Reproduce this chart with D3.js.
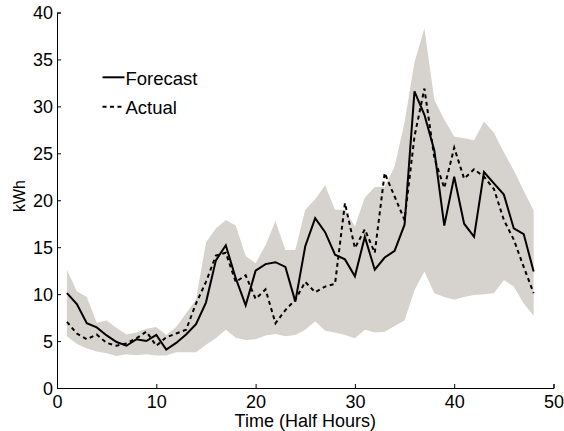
<!DOCTYPE html>
<html>
<head>
<meta charset="utf-8">
<script src="https://cdn.jsdelivr.net/npm/d3@7"></script>
<style>
  html, body { margin: 0; padding: 0; background: #fff; }
  svg text { font-family: "Liberation Sans", Arial, sans-serif; fill: #000; }
</style>
</head>
<body>
<svg id="chart" width="564" height="431"></svg>
<script>
// Half-hour index 1..48
const halfHours = d3.range(1, 49);

// Forecast demand (kWh)
const forecast = [10.1, 8.95, 6.9, 6.45, 5.6, 4.9, 4.5, 5.2, 5.0, 5.65, 4.1, 4.8,
  5.7, 6.8, 9.1, 13.6, 15.2, 11.7, 8.8, 12.5, 13.2, 13.4, 12.9, 9.2,
  15.1, 18.1, 16.6, 14.2, 13.7, 11.9, 16.1, 12.6, 13.9, 14.6, 17.4, 31.6,
  29.1, 25.3, 17.3, 22.5, 17.5, 16.1, 23.0, 21.8, 20.6, 17.0, 16.4, 12.4];

// Actual demand (kWh)
const actual = [7.05, 5.8, 5.2, 5.7, 4.8, 4.5, 4.75, 5.3, 6.0, 4.5, 5.4, 5.8,
  6.2, 9.0, 11.3, 14.1, 14.4, 11.3, 12.0, 9.5, 10.5, 6.9, 8.3, 9.4,
  11.3, 10.2, 10.8, 11.1, 19.7, 14.9, 16.9, 14.4, 22.9, 20.4, 17.9, 26.8,
  31.9, 24.5, 21.3, 25.6, 22.3, 23.3, 22.5, 21.2, 17.9, 15.8, 12.9, 10.1];

// Forecast interval bounds (kWh)
const upper = [12.6, 10.3, 9.7, 6.95, 7.2, 6.4, 5.7, 5.9, 6.3, 6.5, 5.65, 6.5,
  7.95, 9.4, 15.5, 17.0, 17.9, 17.3, 14.05, 13.3, 15.2, 17.8, 14.7, 14.7,
  19.0, 20.1, 21.6, 19.0, 19.0, 17.2, 20.3, 21.4, 21.4, 23.6, 28.3, 34.7,
  38.3, 30.7, 28.6, 26.8, 26.6, 26.4, 28.4, 27.2, 25.1, 23.2, 21.0, 18.9];
const lower = [5.5, 4.7, 4.2, 3.9, 3.7, 3.4, 3.6, 3.5, 3.6, 3.45, 3.45, 3.8,
  3.8, 3.8, 4.6, 5.3, 6.2, 5.35, 5.1, 5.2, 5.6, 5.75, 5.5, 5.65,
  6.2, 7.1, 6.1, 5.9, 5.65, 5.3, 6.2, 5.9, 6.0, 6.6, 7.2, 10.4,
  12.4, 10.1, 9.7, 9.4, 9.7, 9.9, 10.0, 10.1, 11.5, 10.8, 9.0, 7.7];

const xTicks = [0, 10, 20, 30, 40, 50];
const yTicks = [0, 5, 10, 15, 20, 25, 30, 35, 40];
const seriesNames = ["Forecast", "Actual"];

const svg = d3.select("#chart");
const x = d3.scaleLinear().domain([0, 50]).range([57, 553.5]);
const y = d3.scaleLinear().domain([0, 40]).range([388, 12.5]);

// Interval band
const band = d3.area()
  .x((d, i) => x(halfHours[i]))
  .y0((d, i) => y(lower[i]))
  .y1((d, i) => y(upper[i]));
svg.append("path")
  .datum(upper)
  .attr("d", band)
  .attr("fill", "#d6d3ce");

const line = d3.line()
  .x((d, i) => x(halfHours[i]))
  .y(d => y(d));

svg.append("path")
  .datum(forecast)
  .attr("d", line)
  .attr("fill", "none")
  .attr("stroke", "#000")
  .attr("stroke-width", 2)
  .attr("stroke-linejoin", "miter");

svg.append("path")
  .datum(actual)
  .attr("d", line)
  .attr("fill", "none")
  .attr("stroke", "#000")
  .attr("stroke-width", 2)
  .attr("stroke-dasharray", "4,3.5");

// Axes with inward ticks
const xAxis = d3.axisBottom(x).tickValues(xTicks).tickSize(-4).tickPadding(7).tickFormat(d3.format("d"));
const yAxis = d3.axisLeft(y).tickValues(yTicks).tickSize(-4).tickPadding(4).tickFormat(d3.format("d"));

const gx = svg.append("g").attr("transform", `translate(0,${y(0)})`).call(xAxis);
const gy = svg.append("g").attr("transform", `translate(${x(0)},0)`).call(yAxis);
[gx, gy].forEach(g => {
  g.select(".domain").attr("stroke", "#000").attr("stroke-width", 1);
  g.selectAll(".tick line").attr("stroke", "#000").attr("stroke-width", 1);
  g.selectAll(".tick text")
    .style("font-family", "'Liberation Sans', Arial, sans-serif")
    .attr("font-size", 18).attr("fill", "#000");
});
gy.selectAll(".tick text").attr("dy", "0.35em");

// Axis titles
svg.append("text")
  .attr("x", (x(0) + x(50)) / 2)
  .attr("y", 427)
  .attr("text-anchor", "middle")
  .attr("font-size", 18)
  .text("Time (Half Hours)");

svg.append("text")
  .attr("transform", "translate(25,196) rotate(-90)")
  .attr("text-anchor", "middle")
  .attr("font-size", 16)
  .text("kWh");

// Legend
const legend = svg.append("g");
const legendRows = [
  { name: seriesNames[0], dash: null, ly: 77.3, ty: 85 },
  { name: seriesNames[1], dash: "4,3.5", ly: 106.7, ty: 114 }
];
legendRows.forEach(r => {
  legend.append("line")
    .attr("x1", 102.5).attr("x2", 124.5)
    .attr("y1", r.ly).attr("y2", r.ly)
    .attr("stroke", "#000").attr("stroke-width", 2)
    .attr("stroke-dasharray", r.dash);
  legend.append("text")
    .attr("x", 125.5).attr("y", r.ty)
    .attr("font-size", 18.5)
    .text(r.name);
});
</script>
</body>
</html>
